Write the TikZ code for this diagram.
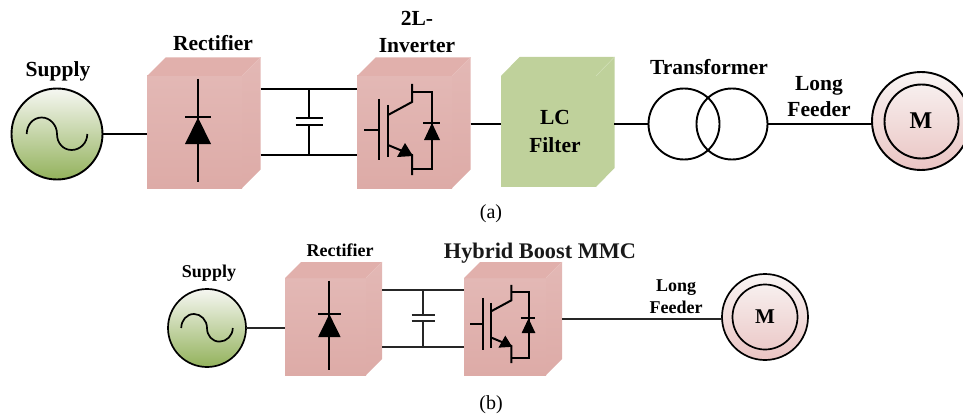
\documentclass[tikz,border=0pt]{standalone}
\usepackage{fontspec}
\setmainfont{Liberation Serif}
\definecolor{boxtop}{HTML}{E3B8B5}
\definecolor{boxbot}{HTML}{DDABA7}
\definecolor{boxcap}{HTML}{E1B0AC}
\definecolor{boxedge}{HTML}{E6BEBB}
\definecolor{filtgreen}{HTML}{BFD19B}
\definecolor{filtedge}{HTML}{D3E0BA}
\definecolor{supplytop}{HTML}{F6F7F2}
\definecolor{supplybot}{HTML}{93B25C}
\definecolor{motortop}{HTML}{F9F5F4}
\definecolor{motorbot}{HTML}{EAC4C3}
\tikzset{
  x=1pt,y=-1pt,
  wire/.style={line width=2pt,black},
  wireb/.style={line width=1.7pt,black!85},
  frontp/.style={inner sep=0pt,outer sep=0pt,anchor=north west,top color=boxtop,bottom color=boxbot},
  frontg/.style={inner sep=0pt,outer sep=0pt,anchor=north west,fill=filtgreen},
  ring/.style={circle,draw=black,inner sep=0pt,outer sep=0pt},
  supplyc/.style={ring,line width=1.9pt,top color=supplytop,bottom color=supplybot},
  motorc/.style={ring,line width=1.9pt,top color=motortop,bottom color=motorbot},
  labA/.style={font=\bfseries\fontsize{21.5}{26}\selectfont,align=center,inner sep=0pt},
  labB/.style={font=\bfseries\fontsize{18}{22}\selectfont,align=center,inner sep=0pt},
  captiontext/.style={font=\fontsize{20}{24}\selectfont,inner sep=0pt},
  pics/sinewave/.style={code={
    \draw[line width=1.7pt] (-30.3,0) .. controls (-30.3,-9) and (-24,-16.5) .. (-15.3,-16.5)
      .. controls (-7,-16.5) and (0,-9) .. (0,0)
      .. controls (0,9) and (6,16) .. (14.7,16)
      .. controls (23,16) and (30.3,9) .. (30.3,0);
  }},
  pics/diode/.style={code={
    \draw[line width=2pt] (51,3) -- (51,106);
    \draw[line width=2pt] (38,41.5) -- (64,41.5);
    \fill (51,41.5) -- (64,68) -- (38,68) -- cycle;
  }},
  pics/igbt/.style={code={
    \draw[line width=2pt] (7,54) -- (21,54);
    \draw[line width=2pt] (21.7,23) -- (21.7,84);
    \draw[line width=2pt] (31,29) -- (31,81);
    \draw[line width=2pt] (31,39) -- (55,26) -- (55,8);
    \draw[line width=2pt] (55,16) -- (75,16) -- (75,93) -- (55,93);
    \draw[line width=2pt] (31,69) -- (55,79) -- (55,99);
    \fill (56,80) -- (48,67) -- (40,81) -- cycle;
    \draw[line width=2pt] (66,47) -- (83,47);
    \fill (75,47) -- (83,64) -- (67,64) -- cycle;
  }}
}
% #1 name, #2 x, #3 y, #4 w, #5 h, #6 depth
\newcommand{\pinkbox}[6]{%
  \node[frontp,minimum width=#4pt,minimum height=#5pt] (#1) at (#2,#3) {};
  \fill[boxcap] (#1.north west) -- ++(#6,-#6) -- ++(#4,0) -- (#1.north east) -- cycle;
  \shade[top color=boxtop,bottom color=boxbot] (#1.north east) -- ++(#6,-#6) -- ++(0,#5) -- (#1.south east) -- cycle;
  \draw[boxedge,line width=.5pt] (#1.north east) -- ++(#6,-#6);
}
\begin{document}
\begin{tikzpicture}
\useasboundingbox (0,0) rectangle (963,417);
\begin{scope}
\clip (0,0) rectangle (963,417);

% ---------- (a) ----------
\node[supplyc,minimum size=91pt] (supA) at (57,134) {};
\pic at (57,134) {sinewave};
\pinkbox{rectA}{147}{76}{95}{112}{18.5}
\pic at (147,76) {diode};
\pinkbox{invA}{357}{76}{95}{112}{18.5}
\pic at (357,76) {igbt};
\node[frontg,minimum width=95pt,minimum height=111pt] (filA) at (501,76) {};
\fill[filtgreen] (filA.north west) -- ++(18.5,-19) -- ++(95,0) -- ++(0,111) -- (filA.south east) -- (filA.north east) -- cycle;
\draw[filtedge,line width=.5pt] (filA.north east) -- ++(18.5,-19);
\node[ring,line width=1.9pt,minimum size=71pt] (trLA) at (684,124) {};
\node[ring,line width=1.9pt,minimum size=71pt] (trRA) at (732,124) {};
\node[motorc,minimum size=98pt] (motA) at (921,121) {};
\node[ring,line width=1.9pt,minimum size=74pt] (motAi) at (921.5,121.5) {};

\coordinate (rectAout) at (260.5,0);
\coordinate (dcpA) at (rectAout |- 0,89.5);
\coordinate (dcnA) at (rectAout |- 0,154.5);
\coordinate (capAtop) at (309,89.5);
\coordinate (capAbot) at (309,154.5);
\coordinate (capAp) at (309,118.5);
\coordinate (capAn) at (309,125.5);
\coordinate (invAout) at (470.5,124);
\coordinate (filAout) at (614,124);
\draw[wire] (supA.east) -- (supA.east -| rectA.west);
\draw[wire] (dcpA) -- (dcpA -| invA.west);
\draw[wire] (dcnA) -- (dcnA -| invA.west);
\draw[wire] (capAtop) -- (capAp);
\draw[wire] (capAbot) -- (capAn);
\draw[wire] ([xshift=-13.5pt]capAp) -- ([xshift=13.5pt]capAp);
\draw[wire] ([xshift=-13.5pt]capAn) -- ([xshift=13.5pt]capAn);
\draw[wire] (invAout) -- (invAout -| filA.west);
\draw[wire] (filAout) -- (trLA.west);
\draw[wire] (trRA.east) -- (trRA.east -| motA.west);

\node[labA] (lSupA) at (58,71.5) {Supply};
\node[labA] (lRectA) at (213,43) {Rectifier};
\node[labA,font=\bfseries\fontsize{21.5}{27}\selectfont] (lInvA) at (417,32) {2L-\\Inverter};
\node[labA,font=\bfseries\fontsize{21.5}{28}\selectfont] (lFilA) at (555,131.5) {LC\\Filter};
\node[labA] (lTrA) at (709,67.5) {Transformer};
\node[labA] (lFeedA) at (819,97) {Long\\Feeder};
\node[labA,font=\bfseries\fontsize{24}{26}\selectfont] (lMA) at (921,121) {M};
\node[captiontext] (capa) at (491,213.5) {(a)};

% ---------- (b) ----------
\node[supplyc,line width=1.7pt,minimum size=78pt] (supB) at (207,328) {};
\pic[scale=.85] at (207,328) {sinewave};
\pinkbox{rectB}{285}{278}{81}{97}{16}
\pic[scale=.87] at (285,278) {diode};
\pinkbox{invB}{464}{278}{82}{97}{16}
\pic[scale=.86] at (464,278) {igbt};
\node[motorc,line width=1.7pt,minimum size=86pt] (motB) at (765,317) {};
\node[ring,line width=1.7pt,minimum size=65pt] (motBi) at (765,317) {};

\coordinate (rectBout) at (382,0);
\coordinate (dcpB) at (rectBout |- 0,290);
\coordinate (dcnB) at (rectBout |- 0,347);
\coordinate (capBtop) at (423,290);
\coordinate (capBbot) at (423,347);
\coordinate (capBp) at (423,315);
\coordinate (capBn) at (423,321);
\coordinate (invBout) at (562,319);
\draw[wireb] (supB.east) -- (supB.east -| rectB.west);
\draw[wireb] (dcpB) -- (dcpB -| invB.west);
\draw[wireb] (dcnB) -- (dcnB -| invB.west);
\draw[wireb] (capBtop) -- (capBp);
\draw[wireb] (capBbot) -- (capBn);
\draw[wireb] ([xshift=-11.5pt]capBp) -- ([xshift=11.5pt]capBp);
\draw[wireb] ([xshift=-11.5pt]capBn) -- ([xshift=11.5pt]capBn);
\draw[wireb] (invBout) -- (invBout -| motB.west);

\node[labB] (lSupB) at (209,273.5) {Supply};
\node[labB] (lRectB) at (340,250) {Rectifier};
\node[labA,font=\bfseries\fontsize{22.3}{26}\selectfont,text=black!90] (lInvB) at (540,253) {Hybrid Boost MMC};
\node[labB] (lFeedB) at (676,297) {Long\\Feeder};
\node[labA,font=\bfseries\fontsize{21}{26}\selectfont] (lMB) at (765,317) {M};
\node[captiontext] (capb) at (491,404.5) {(b)};
\end{scope}
\end{tikzpicture}
\end{document}
